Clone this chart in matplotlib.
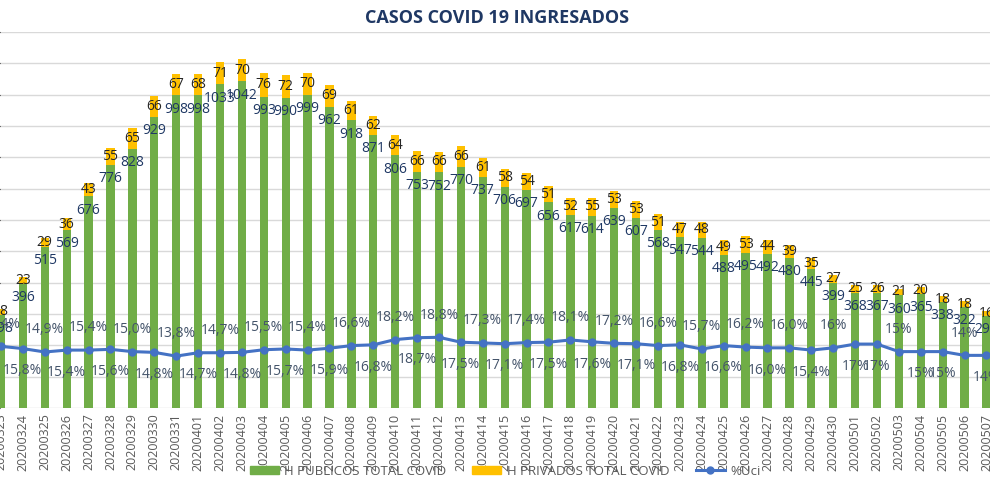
import matplotlib
matplotlib.use("Agg")
import matplotlib.pyplot as plt
from matplotlib.lines import Line2D
from matplotlib.patches import Patch
import pandas as pd

# days shown on the x axis (20200323 .. 20200507)
fechas = list(pd.date_range("2020-03-23", "2020-05-07").strftime("%Y%m%d"))

# patients admitted in public hospitals
publicos = [298, 396, 515, 569, 676, 776, 828, 929, 998, 998,
            1033, 1042, 993, 990, 999, 962, 918, 871, 806, 753,
            752, 770, 737, 706, 697, 656, 617, 614, 639, 607,
            568, 547, 544, 488, 495, 492, 480, 445, 399, 368,
            367, 360, 365, 338, 322, 295]

# patients admitted in private hospitals
privados = [18, 23, 29, 36, 43, 55, 65, 66, 67, 68,
            71, 70, 76, 72, 70, 69, 61, 62, 64, 66,
            66, 66, 61, 58, 54, 51, 52, 55, 53, 53,
            51, 47, 48, 49, 53, 44, 39, 35, 27, 25,
            26, 21, 20, 18, 18, 16]

# share in ICU (percent)
pct_uci = [16.4, 15.8, 14.9, 15.4, 15.4, 15.6, 15.0, 14.8, 13.8, 14.7,
           14.7, 14.8, 15.5, 15.7, 15.4, 15.9, 16.6, 16.8, 18.2, 18.7,
           18.8, 17.5, 17.3, 17.1, 17.4, 17.5, 18.1, 17.6, 17.2, 17.1,
           16.6, 16.8, 15.7, 16.6, 16.2, 16.0, 16.0, 15.4, 16, 17,
           17, 15, 15, 15, 14, 14]

# where each percent label sits: 1 above the line, -1 below
pos_label = [1, -1] * 20 + [-1, 1, -1, -1, 1, -1]

VERDE = "#70AD47"
AMARILLO = "#FFC000"
AZUL = "#4472C4"

plt.rcParams["font.family"] = ["Open Sans", "DejaVu Sans"]


def pct_texto(i, v):
    # the last days are shown without decimals
    if i >= 38:
        return "%d%%" % round(v)
    return ("%.1f%%" % v).replace(".", ",")


def main():
    fig = plt.figure(figsize=(9.9, 4.91), dpi=100)
    ax = fig.add_axes([0.0, 0.169, 1.0, 0.766])
    x = list(range(len(fechas)))

    ax.bar(x, publicos, width=0.38, color=VERDE, zorder=2)
    ax.bar(x, privados, width=0.38, bottom=publicos, color=AMARILLO, zorder=2)

    for i in x:
        ax.annotate(str(publicos[i]), (i, publicos[i]), xytext=(0, -10),
                    textcoords="offset points", ha="center", va="center",
                    fontsize=10, color="#1F3864", zorder=5)
        ax.annotate(str(privados[i]), (i, publicos[i] + privados[i] / 2),
                    ha="center", va="center", fontsize=10, color="#262626",
                    zorder=5)

    ax.set_ylim(0, 1200)
    ax.set_xlim(-1 / 21.9, 989 / 21.9)
    ax.set_yticks(range(0, 1201, 100))
    ax.yaxis.grid(True, color="#D9D9D9", linewidth=1)
    ax.set_axisbelow(True)
    ax.tick_params(axis="y", left=False, labelleft=False)
    ax.set_xticks(x)
    ax.set_xticklabels(fechas, rotation=90, fontsize=9, color="#595959")
    ax.tick_params(axis="x", length=0, pad=4)
    for s in ax.spines.values():
        s.set_visible(False)

    ax2 = ax.twinx()
    valores = [v / 100 for v in pct_uci]
    ax2.plot(x, valores, color=AZUL, linewidth=2.2, marker="o", markersize=5,
             zorder=4)
    ax2.set_ylim(0, 1)
    ax2.set_xlim(ax.get_xlim())
    ax2.axis("off")
    for i in x:
        ax2.annotate(pct_texto(i, pct_uci[i]), (i, valores[i]),
                     xytext=(0, 16 * pos_label[i]), textcoords="offset points",
                     ha="center", va="center", fontsize=10, color="#44546A",
                     zorder=6)

    fig.text(0.502, 0.963, "CASOS COVID 19 INGRESADOS", ha="center",
             va="center", fontsize=13, fontweight="bold", color="#1F3864")

    handles = [Patch(color=VERDE), Patch(color=AMARILLO),
               Line2D([], [], color=AZUL, linewidth=2.2, marker="o", markersize=5)]
    etiquetas = ["H PUBLICOS TOTAL COVID", "H PRIVADOS TOTAL COVID", "%Uci"]
    fig.legend(handles, etiquetas, loc="center", bbox_to_anchor=(0.51, 0.04),
               ncol=3, frameon=False, fontsize=9.5, labelcolor="#595959",
               handlelength=2.2, handleheight=0.6, handletextpad=0.4,
               columnspacing=2.0)

    fig.savefig("out.png", dpi=100, facecolor="white")


if __name__ == "__main__":
    main()
